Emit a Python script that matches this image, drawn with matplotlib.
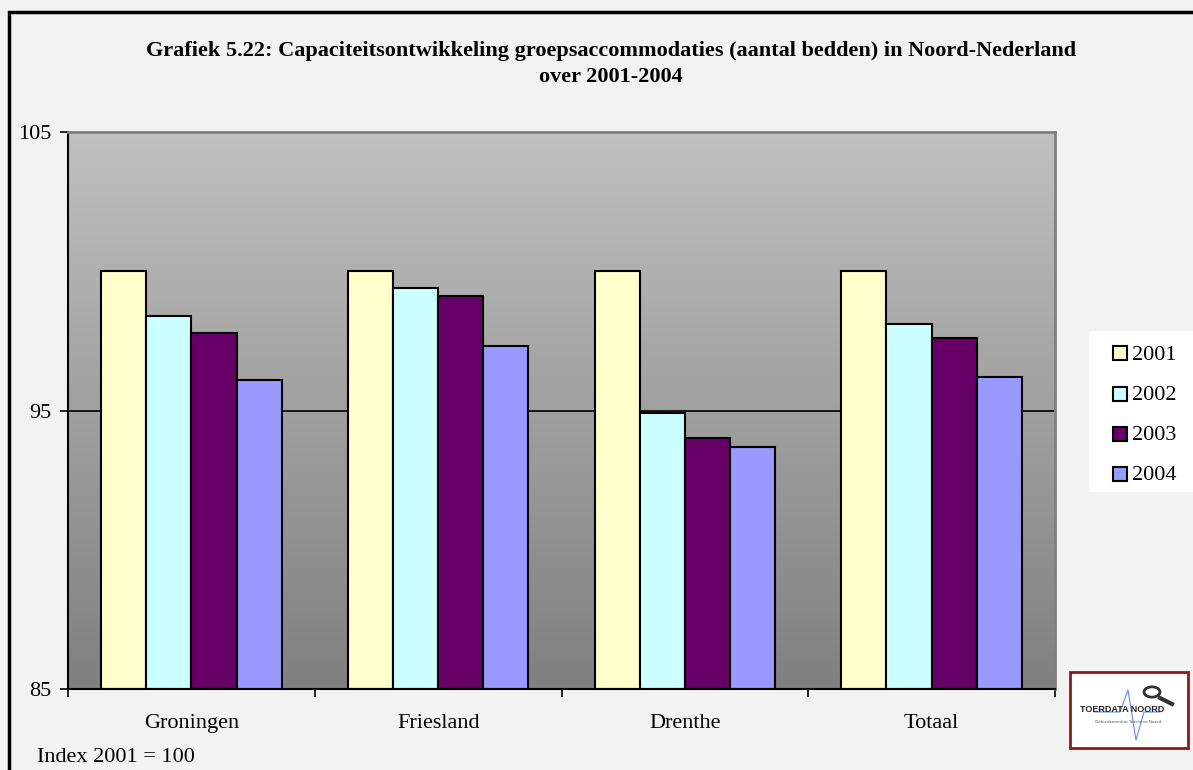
import matplotlib
matplotlib.use("Agg")
import matplotlib.pyplot as plt
import numpy as np
from matplotlib.patches import Rectangle, Circle
from matplotlib.colors import LinearSegmentedColormap

categories = ["Groningen", "Friesland", "Drenthe", "Totaal"]
years = ["2001", "2002", "2003", "2004"]
values = {
    "2001": [100.0, 100.0, 100.0, 100.0],
    "2002": [98.4, 99.4, 94.9, 98.1],
    "2003": [97.8, 99.1, 94.0, 97.6],
    "2004": [96.1, 97.3, 93.7, 96.2],
}
colors = ["#FFFFCC", "#CCFFFF", "#660066", "#9999FF"]
title = "Grafiek 5.22: Capaciteitsontwikkeling groepsaccommodaties (aantal bedden) in Noord-Nederland\nover 2001-2004"
yticks = [85, 95, 105]

plt.rcParams['font.family'] = ['Liberation Serif', 'DejaVu Serif']

W, H = 1193, 770
fig = plt.figure(figsize=(W/100, H/100), dpi=100, facecolor="#F2F2F2")

# figure border
fig.patches.append(Rectangle((9/W, -0.1), 1.2, (H-12)/H + 0.1, transform=fig.transFigure,
                             fill=False, edgecolor="black", linewidth=2.5, zorder=0))

ax = fig.add_axes([68/W, (H-689)/H, (1055-68)/W, (689-132)/H])
ax.set_xlim(0, 4)
ax.set_ylim(85, 105)

# gradient background
grad = np.linspace(0, 1, 256).reshape(-1, 1)
cmap = LinearSegmentedColormap.from_list("g", ["#808080", "#C0C0C0"])
ax.imshow(grad, aspect="auto", cmap=cmap, extent=[0, 4, 85, 105], origin="lower", zorder=0)

ax.axhline(95, color="black", linewidth=1.2, zorder=1)

bw = 0.183
x = np.arange(len(categories)) + 0.5
for i, (yr, c) in enumerate(zip(years, colors)):
    ax.bar(x + (i - 1.5) * bw, np.array(values[yr]) - 85, bottom=85, width=bw,
           color=c, edgecolor="black", linewidth=1.5, zorder=2, label=yr)

ax.set_yticks(yticks)
ax.set_yticklabels([str(t) for t in yticks], fontsize=16)
ax.set_xticks([0, 1, 2, 3, 4])
ax.set_xticklabels([])
ax.set_xticks(x, minor=True)
ax.set_xticklabels(categories, minor=True, fontsize=16)
ax.tick_params(axis="x", which="minor", length=0, pad=18)
ax.tick_params(axis="x", which="major", direction="out", length=6, width=1.2)
ax.tick_params(axis="y", direction="out", length=6, width=1.2, pad=6)

for s in ["top", "right"]:
    ax.spines[s].set_color("#808080")
    ax.spines[s].set_linewidth(2)
for s in ["left", "bottom"]:
    ax.spines[s].set_color("black")
    ax.spines[s].set_linewidth(1.5)

fig.text(611/W, 1 - 64/H, title, ha="center", va="center", fontsize=16,
         fontweight="bold", linespacing=1.38)

fig.text(37/W, 1 - 758/H, "Index 2001 = 100", ha="left", va="center", fontsize=16)

# legend (drawn manually)
fig.patches.append(Rectangle((1089/W, 1 - 492/H), 0.2, (492-331)/H, transform=fig.transFigure,
                             facecolor="white", edgecolor="none", zorder=3))
row_y = [353, 394, 434, 474]
for yr, c, ry in zip(years, colors, row_y):
    fig.patches.append(Rectangle((1113/W, 1 - (ry + 7)/H), 14/W, 14/H, transform=fig.transFigure,
                                 facecolor=c, edgecolor="black", linewidth=1.5, zorder=4))
    fig.text(1132/W, 1 - (ry + 2)/H, yr, ha="left", va="center", fontsize=16, zorder=4)

# logo
lx0, ly0, lx1, ly1 = 1070, 672, 1188, 748
fig.patches.append(Rectangle((lx0/W, 1 - ly1/H), (lx1-lx0)/W, (ly1-ly0)/H, transform=fig.transFigure,
                             facecolor="white", edgecolor="#8B1A1A", linewidth=2, zorder=3))
fig.text(1122/W, 1 - 709/H, "TOERDATA NOORD", ha="center", va="center", fontsize=6.5,
         fontweight="bold", family="Liberation Sans", color="#222222", zorder=5)
fig.text(1128/W, 1 - 722/H, "Gebiedsmonitor Toerisme Noord", ha="center", va="center", fontsize=3,
         family="DejaVu Sans", color="#555555", zorder=5)
fig.patches.append(Circle((1152/W, 1 - 692/H), 8/W, transform=fig.transFigure, fill=False,
                          edgecolor="#333333", linewidth=2, zorder=5))
fig.lines.append(plt.Line2D([1160/W, 1172/W], [1 - 698/H, 1 - 704/H], transform=fig.transFigure,
                            color="#333333", linewidth=3, zorder=5))
fig.lines.append(plt.Line2D([1095/W, 1120/W, 1128/W, 1136/W, 1144/W, 1160/W],
                            [1 - 712/H, 1 - 712/H, 1 - 690/H, 1 - 740/H, 1 - 712/H, 1 - 712/H],
                            transform=fig.transFigure, color="#6688FF", linewidth=0.8, zorder=4))

fig.savefig("out.png", dpi=100, facecolor=fig.get_facecolor())
